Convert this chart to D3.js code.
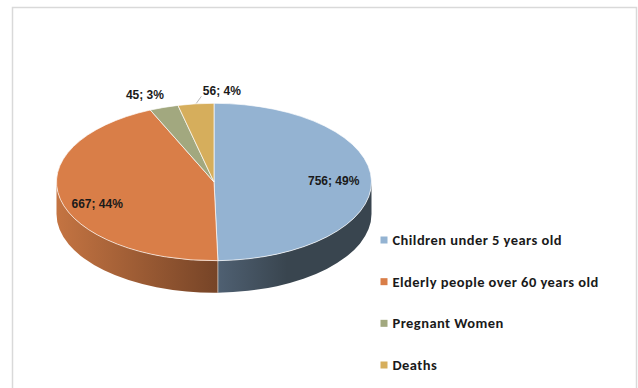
<!DOCTYPE html>
<html>
<head>
<meta charset="utf-8">
<script src="https://cdn.jsdelivr.net/npm/d3@7"></script>
<style>
  html, body { margin: 0; padding: 0; background: #ffffff; }
  svg { display: block; }
</style>
</head>
<body>
<svg id="chart" width="638" height="388"></svg>
<script>
// ---- data ----
const categories = ["Children under 5 years old", "Elderly people over 60 years old", "Pregnant Women", "Deaths"];
const values = [756, 667, 45, 56];
const percentLabels = ["49%", "44%", "3%", "4%"];
const topColors = ["#94B3D2", "#D97E48", "#A2A87F", "#D6AE5C"];
const sideColorsLight = ["#4F6072", "#C47442", "#8A8F6A", "#B8944C"];
const sideColorsDark = ["#39454F", "#764427", "#5F634A", "#7E6534"];

// ---- layout ----
const W = 638, H = 388;
const cx = 214, cy = 182, rx = 157.5, ry = 78.7, depth = 32;

const svg = d3.select("#chart");
const defs = svg.append("defs");

svg.append("rect")
  .attr("x", 12.5).attr("y", 7.5)
  .attr("width", 624).attr("height", 400)
  .attr("fill", "#ffffff")
  .attr("stroke", "#D9D9D9").attr("stroke-width", 1.5);

const pie = d3.pie().sort(null).startAngle(0).endAngle(2 * Math.PI);
const arcs = pie(values);

const pt = (a, f = 1, dy = 0) => [cx + rx * f * Math.sin(a), cy - ry * f * Math.cos(a) + dy];

// ---- sides (front half: angles PI/2 .. 3PI/2) ----
const gSide = svg.append("g");
arcs.forEach((d, i) => {
  const s = Math.max(d.startAngle, Math.PI / 2);
  const e = Math.min(d.endAngle, 3 * Math.PI / 2);
  if (e <= s) return;
  const p0 = pt(s), p1 = pt(e);
  const large = (e - s) > Math.PI ? 1 : 0;
  const path = `M${p0[0]},${p0[1]} A${rx},${ry} 0 ${large} 1 ${p1[0]},${p1[1]}` +
    ` L${p1[0]},${p1[1] + depth} A${rx},${ry} 0 ${large} 0 ${p0[0]},${p0[1] + depth} Z`;
  const xs = [p0[0], p1[0]];
  const xmin = d3.min(xs), xmax = d3.max(xs);
  const gid = "side" + i;
  const grad = defs.append("linearGradient").attr("id", gid)
    .attr("gradientUnits", "userSpaceOnUse")
    .attr("x1", xmin).attr("x2", xmax).attr("y1", 0).attr("y2", 0);
  if (i === 0) {
    grad.append("stop").attr("offset", 0).attr("stop-color", sideColorsLight[i]);
    grad.append("stop").attr("offset", 0.45).attr("stop-color", sideColorsDark[i]);
    grad.append("stop").attr("offset", 1).attr("stop-color", sideColorsDark[i]);
  } else {
    grad.append("stop").attr("offset", 0).attr("stop-color", sideColorsLight[i]);
    grad.append("stop").attr("offset", 1).attr("stop-color", sideColorsDark[i]);
  }
  gSide.append("path").attr("d", path).attr("fill", `url(#${gid})`);
});
// seam lines on side
arcs.forEach(d => {
  const a = d.endAngle;
  if (a > Math.PI / 2 && a < 3 * Math.PI / 2) {
    const p = pt(a);
    gSide.append("line")
      .attr("x1", p[0]).attr("y1", p[1]).attr("x2", p[0]).attr("y2", p[1] + depth)
      .attr("stroke", "#E8E0D8").attr("stroke-width", 0.8).attr("opacity", 0.8);
  }
});

// ---- top faces ----
const gTop = svg.append("g");
arcs.forEach((d, i) => {
  const p0 = pt(d.startAngle), p1 = pt(d.endAngle);
  const large = (d.endAngle - d.startAngle) > Math.PI ? 1 : 0;
  gTop.append("path")
    .attr("d", `M${cx},${cy} L${p0[0]},${p0[1]} A${rx},${ry} 0 ${large} 1 ${p1[0]},${p1[1]} Z`)
    .attr("fill", topColors[i])
    .attr("stroke", "#ffffff").attr("stroke-opacity", 0.75).attr("stroke-width", 0.9)
    .attr("stroke-linejoin", "round");
});

// ---- data labels ----
const gLab = svg.append("g")
  .attr("font-family", "'Liberation Sans', Arial, sans-serif")
  .attr("font-weight", "bold").attr("font-size", 12).attr("fill", "#1a1a1a");
arcs.forEach((d, i) => {
  const mid = (d.startAngle + d.endAngle) / 2;
  const txt = `${values[i]}; ${percentLabels[i]}`;
  const frac = (d.endAngle - d.startAngle) / (2 * Math.PI);
  if (frac > 0.2) {
    const x = cx + rx * 0.76 * Math.sin(mid);
    const y = cy - ry * 1.3 * Math.cos(mid);
    gLab.append("text").attr("x", x).attr("y", y + 4).attr("text-anchor", "middle").text(txt);
  } else {
    const p = pt(mid);
    if (mid > 2 * Math.PI - 0.25) {
      gLab.append("line")
        .attr("x1", p[0] + 0.5).attr("y1", p[1] - 0.5)
        .attr("x2", p[0] + 5.5).attr("y2", p[1] - 7.5)
        .attr("stroke", "#A6A6A6").attr("stroke-width", 0.8);
      gLab.append("text").attr("x", p[0] + 7).attr("y", p[1] - 8.5)
        .attr("text-anchor", "start").text(txt);
    } else {
      gLab.append("text").attr("x", p[0]).attr("y", p[1] - 8)
        .attr("text-anchor", "end").text(txt);
    }
  }
});

// ---- legend ----
const legend = svg.append("g")
  .attr("font-family", "Carlito, Lato, 'Open Sans', sans-serif")
  .attr("font-weight", "bold").attr("font-size", 14.5).attr("letter-spacing", 0.45)
  .attr("fill", "#1a1a1a");
const legY = d3.scalePoint().domain(categories).range([240, 365]);
categories.forEach((c, i) => {
  const y = legY(c);
  legend.append("rect").attr("x", 380.5).attr("y", y - 3.5).attr("width", 7).attr("height", 7)
    .attr("fill", topColors[i]);
  legend.append("text").attr("x", 392.5).attr("y", y + 5).text(c);
});
</script>
</body>
</html>
